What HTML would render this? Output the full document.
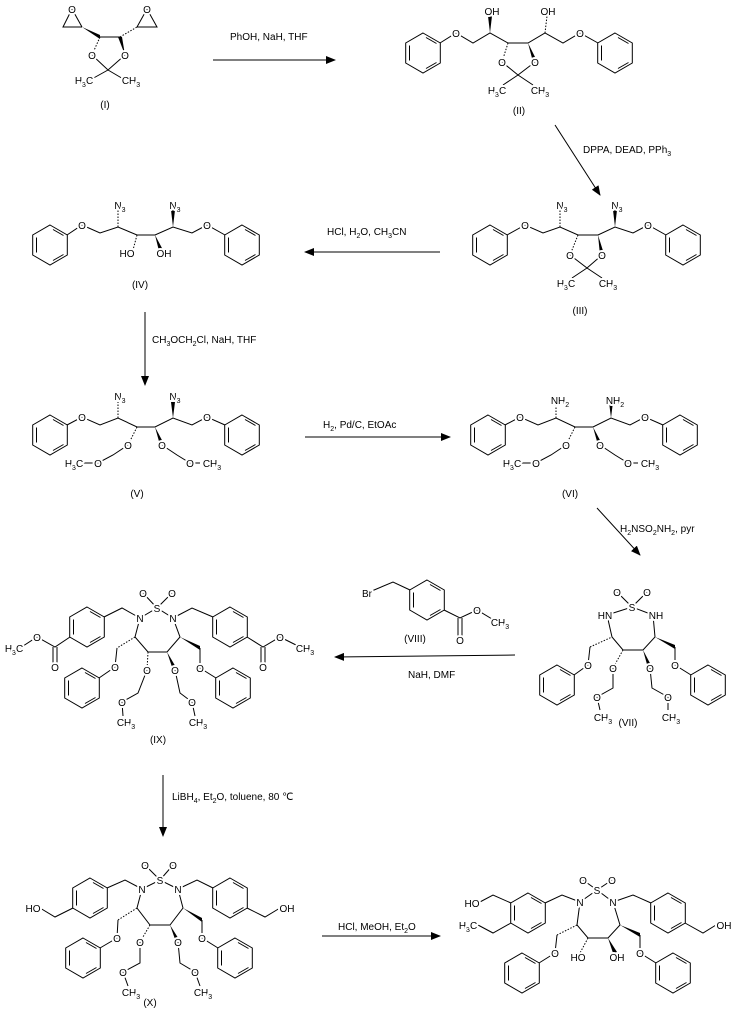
<!DOCTYPE html>
<html><head><meta charset="utf-8"><style>
body{margin:0;background:#fff}
svg{display:block}
text{font-family:"Liberation Sans",sans-serif;font-size:10px;fill:#000}
.a text,text.a{paint-order:stroke;stroke:#fff;stroke-width:4px;stroke-linejoin:round}
</style></head><body>
<svg width="736" height="1012" viewBox="0 0 736 1012" xmlns="http://www.w3.org/2000/svg">
<defs>
<g id="bz"><polygon points="0,-20 17.3,-10 17.3,10 0,20 -17.3,10 -17.3,-10" fill="none" stroke="#000" stroke-width="1"/>
<path d="M-13.5,-7.5 L-13.5,7.5 M3,-15.5 L13.5,-9.5 M13.5,9.5 L3,15.5" stroke="#000" stroke-width="1" fill="none"/></g>
<marker id="ah" markerWidth="10" markerHeight="8" refX="9" refY="4" orient="auto" markerUnits="userSpaceOnUse"><path d="M0,0 L10,4 L0,8 z" fill="#000"/></marker>
</defs>
<g stroke="#000" stroke-width="1" fill="none">
<line x1="213" y1="60" x2="335" y2="60" marker-end="url(#ah)"/>
<line x1="555" y1="125" x2="600" y2="195" marker-end="url(#ah)"/>
<line x1="440" y1="252" x2="305" y2="252" marker-end="url(#ah)"/>
<line x1="145" y1="312" x2="145" y2="385" marker-end="url(#ah)"/>
<line x1="305" y1="437" x2="450" y2="437" marker-end="url(#ah)"/>
<line x1="597" y1="508" x2="640" y2="555" marker-end="url(#ah)"/>
<line x1="515" y1="655" x2="335" y2="657" marker-end="url(#ah)"/>
<line x1="163" y1="775" x2="163" y2="836" marker-end="url(#ah)"/>
<line x1="322" y1="936" x2="440" y2="936" marker-end="url(#ah)"/>

<path d="M72,9 L63,27 L82,27 M100,37 L120,37 M137,27 L157,27 L147,9 M92,55 L108,70 L125,55 M108,70 L90,80 M108,70 L125,80"/>
<path d="M72,9 L82,27 M147,9 L137,27"/>
<path d="M120,37 L137,27 M100,37 L92,55" stroke-dasharray="1.5,1.5"/>
<path d="M440,43 L456,33 L473,43 L490,33 L508,43 L528,43 L545,33 L563,43 L580,33 L598,43 M502,62 L518,75 L535,62 M518,75 L503,85 M518,75 L533,85"/>
<path d="M545,33 L547,16 M508,43 L502,62" stroke-dasharray="1.5,1.5"/>
<path d="M507,235 L525,225 L543,233 L560,227 L578,235 L598,235 L615,227 L633,233 L648,225 L666,235 M570,255 L587,268 L602,255 M587,268 L572,278 M587,268 L602,278"/>
<path d="M560,227 L560,210 M578,235 L570,255" stroke-dasharray="1.5,1.5"/>
<path d="M67,235 L82,225 L100,233 L118,227 L137,235 L155,235 L173,227 L192,233 L207,225 L225,235"/>
<path d="M118,227 L118,210 M137,235 L133,250" stroke-dasharray="1.5,1.5"/>
<path d="M67,425 L82,417 L100,425 L118,418 L137,427 L155,427 L173,418 L192,425 L207,417 L225,425 M128,445 L113,455 L98,463 L82,463 M162,445 L177,455 L190,463 L200,463"/>
<path d="M118,418 L118,402 M137,427 L128,445" stroke-dasharray="1.5,1.5"/>
<path d="M505,425 L520,417 L538,425 L556,418 L575,427 L593,427 L611,418 L630,425 L645,417 L663,425 M566,445 L551,455 L536,463 L520,463 M600,445 L615,455 L628,463 L638,463"/>
<path d="M556,418 L556,402 M575,427 L566,445" stroke-dasharray="1.5,1.5"/>
<path d="M607,615 L632,607 L653,615 M617,592 L632,607 L647,592 M607,615 L612,637 L623,650 L643,650 L655,637 L653,615 M574,675 L588,665 L590,647 M613,668 L613,688 L597,697 L600,710 M650,668 L652,688 L668,697 L668,710 M675,647 L675,665 L691,675"/>
<path d="M590,647 L612,637 M623,650 L613,668" stroke-dasharray="1.5,1.5"/>
<path d="M367,593 L393,582 L410,590 M444,610 L460,618 L477,610 L497,622 M458,618 L458,638 M462,618 L462,638"/>
<path d="M140,618 L157,608 L173,618 M143,593 L157,608 L172,593 M140,618 L135,637 L148,652 L167,652 L180,637 L173,618 M140,618 L122,608 L104,617 M70,637 L55,647 L37,637 L20,648 M53,647 L53,665 M57,647 L57,665 M173,618 L192,608 L213,617 M247,637 L263,647 L280,637 L302,648 M261,647 L261,665 M265,647 L265,665 M117,648 L115,667 L99,678 M147,670 L138,693 L122,702 L123,716 M175,670 L180,693 L192,702 L195,716 M200,648 L200,668 L216,678"/>
<path d="M135,637 L117,648 M148,652 L147,670" stroke-dasharray="1.5,1.5"/>
<path d="M142,889 L160,880 L178,889 M145,865 L160,880 L173,865 M142,889 L137,908 L150,925 L170,925 L183,908 L178,889 M142,889 L125,880 L107,888 M73,908 L55,917 L40,908 M178,889 L197,880 L213,888 M247,908 L265,917 L280,908 M118,920 L117,938 L100,948 M140,942 L140,963 L123,972 L128,986 M178,942 L180,963 L195,972 L200,986 M202,920 L202,938 L218,948"/>
<path d="M137,908 L118,920 M150,925 L140,942" stroke-dasharray="1.5,1.5"/>
<path d="M580,902 L597,890 L613,902 M583,880 L597,890 L612,880 M580,902 L577,925 L588,938 L608,938 L620,925 L613,902 M580,902 L562,895 L545,903 M511,903 L493,895 L478,903 M511,923 L493,933 L478,925 M613,902 L633,895 L651,903 M685,923 L703,933 L716,925 M557,935 L555,953 L539,963 M640,935 L640,953 L656,963"/>
<path d="M577,925 L557,935 M588,938 L580,953" stroke-dasharray="1.5,1.5"/>
</g>
<g fill="#000">
<polygon points="82,27 100,35 100,39"/>
<polygon points="125,55 118,37 122,37"/>
<polygon points="490,33 488,16 492,16"/>
<polygon points="528,43 533,62 537,61"/>
<polygon points="615,227 613,210 617,210"/>
<polygon points="598,235 600,255 604,254"/>
<polygon points="173,227 171,210 175,210"/>
<polygon points="155,235 159,251 163,250"/>
<polygon points="173,418 171,402 175,402"/>
<polygon points="155,427 160,445 164,444"/>
<polygon points="611,418 609,402 613,402"/>
<polygon points="593,427 598,445 602,444"/>
<polygon points="655,637 675,645 675,649"/>
<polygon points="643,650 648,668 652,667"/>
<polygon points="180,637 200,646 200,650"/>
<polygon points="167,652 173,670 177,669"/>
<polygon points="183,908 202,918 202,922"/>
<polygon points="170,925 176,942 180,941"/>
<polygon points="620,925 640,933 640,937"/>
<polygon points="608,938 613,953 617,952"/>
</g>
<g>
<use href="#bz" x="423" y="53"/><use href="#bz" x="615" y="53"/>
<use href="#bz" x="490" y="245"/><use href="#bz" x="683" y="245"/>
<use href="#bz" x="50" y="245"/><use href="#bz" x="242" y="245"/>
<use href="#bz" x="50" y="435"/><use href="#bz" x="242" y="435"/>
<use href="#bz" x="488" y="435"/><use href="#bz" x="680" y="435"/>
<use href="#bz" x="557" y="685"/><use href="#bz" x="708" y="685"/>
<use href="#bz" x="427" y="600"/>
<use href="#bz" x="87" y="627"/><use href="#bz" x="230" y="627"/>
<use href="#bz" x="82" y="688"/><use href="#bz" x="233" y="688"/>
<use href="#bz" x="90" y="898"/><use href="#bz" x="230" y="898"/>
<use href="#bz" x="83" y="958"/><use href="#bz" x="235" y="958"/>
<use href="#bz" x="528" y="913"/><use href="#bz" x="668" y="913"/>
<use href="#bz" x="522" y="973"/><use href="#bz" x="673" y="973"/>
</g>
<text x="230" y="40">PhOH, NaH, THF</text>
<text x="583" y="153">DPPA, DEAD, PPh<tspan font-size="7" dy="3">3</tspan></text>
<text x="327" y="235">HCl, H<tspan font-size="7" dy="3">2</tspan><tspan dy="-3">O, CH</tspan><tspan font-size="7" dy="3">3</tspan><tspan dy="-3">CN</tspan></text>
<text x="152" y="343">CH<tspan font-size="7" dy="3">3</tspan><tspan dy="-3">OCH</tspan><tspan font-size="7" dy="3">2</tspan><tspan dy="-3">Cl, NaH, THF</tspan></text>
<text x="323" y="428">H<tspan font-size="7" dy="3">2</tspan><tspan dy="-3">, Pd/C, EtOAc</tspan></text>
<text x="620" y="532">H<tspan font-size="7" dy="3">2</tspan><tspan dy="-3">NSO</tspan><tspan font-size="7" dy="3">2</tspan><tspan dy="-3">NH</tspan><tspan font-size="7" dy="3">2</tspan><tspan dy="-3">, pyr</tspan></text>
<text x="408" y="678">NaH, DMF</text>
<text x="172" y="800">LiBH<tspan font-size="7" dy="3">4</tspan><tspan dy="-3">, Et</tspan><tspan font-size="7" dy="3">2</tspan><tspan dy="-3">O, toluene, 80 ℃</tspan></text>
<text x="338" y="930">HCl, MeOH, Et<tspan font-size="7" dy="3">2</tspan><tspan dy="-3">O</tspan></text>
<g text-anchor="middle">
<text x="105" y="108">(I)</text><text x="519" y="114">(II)</text>
<text x="580" y="314">(III)</text><text x="140" y="288">(IV)</text>
<text x="137" y="497">(V)</text><text x="570" y="497">(VI)</text>
<text x="628" y="726">(VII)</text><text x="415" y="642">(VIII)</text>
<text x="158" y="743">(IX)</text><text x="150" y="1006">(X)</text>
</g>
<g class="a" text-anchor="middle">
<text x="72" y="13">O</text><text x="147" y="13">O</text>
<text x="92" y="59">O</text><text x="125" y="59">O</text>
<text x="84" y="84">H<tspan font-size="7" dy="3">3</tspan><tspan dy="-3">C</tspan></text><text x="131" y="84">CH<tspan font-size="7" dy="3">3</tspan></text>
<text x="456" y="37">O</text><text x="580" y="37">O</text>
<text x="492" y="15">OH</text><text x="548" y="15">OH</text>
<text x="502" y="66">O</text><text x="535" y="66">O</text>
<text x="497" y="94">H<tspan font-size="7" dy="3">3</tspan><tspan dy="-3">C</tspan></text><text x="540" y="94">CH<tspan font-size="7" dy="3">3</tspan></text>
<text x="525" y="229">O</text><text x="648" y="229">O</text>
<text x="562" y="209">N<tspan font-size="7" dy="3">3</tspan></text><text x="617" y="209">N<tspan font-size="7" dy="3">3</tspan></text>
<text x="570" y="259">O</text><text x="602" y="259">O</text>
<text x="566" y="287">H<tspan font-size="7" dy="3">3</tspan><tspan dy="-3">C</tspan></text><text x="608" y="287">CH<tspan font-size="7" dy="3">3</tspan></text>
<text x="82" y="229">O</text><text x="207" y="229">O</text>
<text x="120" y="209">N<tspan font-size="7" dy="3">3</tspan></text><text x="175" y="209">N<tspan font-size="7" dy="3">3</tspan></text>
<text x="127" y="257">HO</text><text x="164" y="257">OH</text>
<text x="82" y="421">O</text><text x="207" y="421">O</text>
<text x="120" y="400">N<tspan font-size="7" dy="3">3</tspan></text><text x="175" y="400">N<tspan font-size="7" dy="3">3</tspan></text>
<text x="128" y="449">O</text><text x="162" y="449">O</text>
<text x="98" y="467">O</text><text x="190" y="467">O</text>
<text x="74" y="467">H<tspan font-size="7" dy="3">3</tspan><tspan dy="-3">C</tspan></text><text x="212" y="467">CH<tspan font-size="7" dy="3">3</tspan></text>
<text x="520" y="421">O</text><text x="645" y="421">O</text>
<text x="560" y="404">NH<tspan font-size="7" dy="3">2</tspan></text><text x="615" y="404">NH<tspan font-size="7" dy="3">2</tspan></text>
<text x="566" y="449">O</text><text x="600" y="449">O</text>
<text x="536" y="467">O</text><text x="628" y="467">O</text>
<text x="512" y="467">H<tspan font-size="7" dy="3">3</tspan><tspan dy="-3">C</tspan></text><text x="650" y="467">CH<tspan font-size="7" dy="3">3</tspan></text>
<text x="632" y="611">S</text><text x="617" y="596">O</text><text x="647" y="596">O</text>
<text x="605" y="619">HN</text><text x="656" y="619">NH</text>
<text x="588" y="669">O</text><text x="675" y="669">O</text>
<text x="613" y="672">O</text><text x="650" y="672">O</text>
<text x="597" y="701">O</text><text x="668" y="701">O</text>
<text x="603" y="721">CH<tspan font-size="7" dy="3">3</tspan></text><text x="671" y="721">CH<tspan font-size="7" dy="3">3</tspan></text>
<text x="367" y="597">Br</text>
<text x="460" y="644">O</text><text x="477" y="614">O</text><text x="500" y="626">CH<tspan font-size="7" dy="3">3</tspan></text>
<text x="157" y="612">S</text><text x="143" y="597">O</text><text x="172" y="597">O</text>
<text x="140" y="622">N</text><text x="173" y="622">N</text>
<text x="55" y="671">O</text><text x="37" y="641">O</text><text x="14" y="652">H<tspan font-size="7" dy="3">3</tspan><tspan dy="-3">C</tspan></text>
<text x="263" y="671">O</text><text x="280" y="641">O</text><text x="305" y="652">CH<tspan font-size="7" dy="3">3</tspan></text>
<text x="115" y="671">O</text><text x="200" y="672">O</text>
<text x="147" y="674">O</text><text x="175" y="674">O</text>
<text x="122" y="706">O</text><text x="192" y="706">O</text>
<text x="126" y="726">CH<tspan font-size="7" dy="3">3</tspan></text><text x="198" y="726">CH<tspan font-size="7" dy="3">3</tspan></text>
<text x="160" y="884">S</text><text x="145" y="869">O</text><text x="173" y="869">O</text>
<text x="142" y="893">N</text><text x="178" y="893">N</text>
<text x="33" y="912">HO</text><text x="287" y="912">OH</text>
<text x="117" y="942">O</text><text x="202" y="942">O</text>
<text x="140" y="946">O</text><text x="178" y="946">O</text>
<text x="123" y="976">O</text><text x="195" y="976">O</text>
<text x="131" y="996">CH<tspan font-size="7" dy="3">3</tspan></text><text x="203" y="996">CH<tspan font-size="7" dy="3">3</tspan></text>
<text x="597" y="894">S</text><text x="583" y="884">O</text><text x="612" y="884">O</text>
<text x="580" y="906">N</text><text x="613" y="906">N</text>
<text x="472" y="907">HO</text><text x="468" y="929">H<tspan font-size="7" dy="3">3</tspan><tspan dy="-3">C</tspan></text>
<text x="724" y="929">OH</text>
<text x="578" y="961">HO</text><text x="617" y="961">OH</text>
<text x="555" y="957">O</text><text x="640" y="957">O</text>
</g>
</svg>
</body></html>
